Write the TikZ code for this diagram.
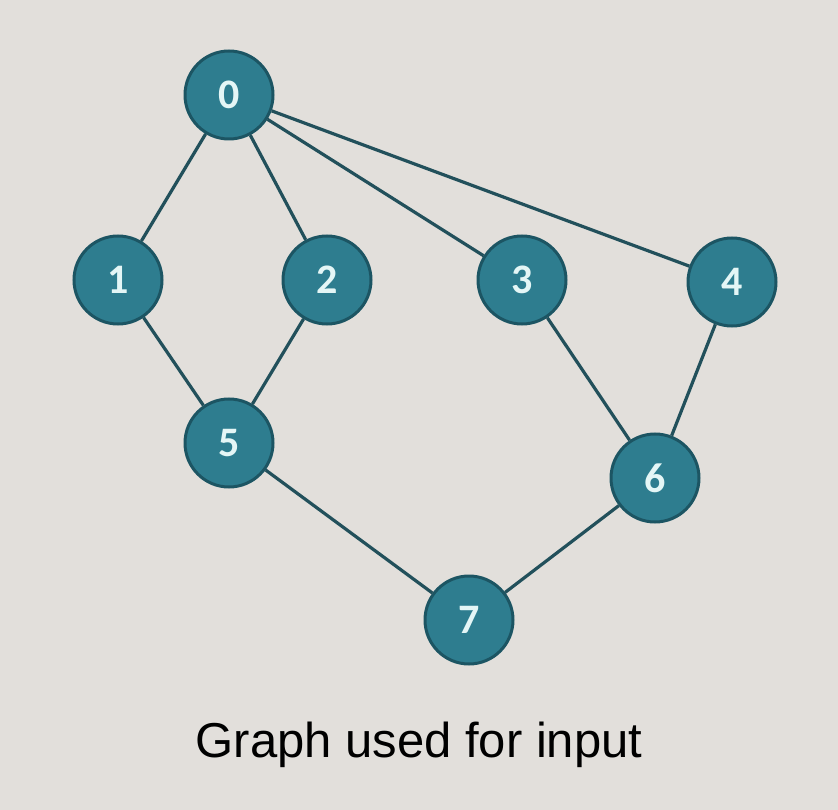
\documentclass[tikz,border=0pt]{standalone}
\usepackage{fontspec}
\setmainfont{Liberation Sans}
\newfontfamily\nodefont{Carlito}
\definecolor{bgc}{HTML}{E2DFDB}
\definecolor{nfill}{HTML}{2E7D8F}
\definecolor{ndraw}{HTML}{1C5563}
\definecolor{ntext}{HTML}{E4F6F6}
\definecolor{ecol}{HTML}{22505B}
\tikzset{
  vert/.style={circle, fill=nfill, draw=ndraw, line width=3pt, minimum size=88pt, inner sep=0pt,
    text=ntext, font=\nodefont\bfseries\fontsize{42}{46}\selectfont},
  edge/.style={draw=ecol, line width=3.2pt}
}
\begin{document}
\begin{tikzpicture}[x=1pt,y=-1pt]
\fill[bgc] (0,0) rectangle (838,810);
\useasboundingbox (0,0) rectangle (838,810);
\node[vert] (n0) at (229,95) {0};
\node[vert] (n1) at (118,280) {1};
\node[vert] (n2) at (327,280) {2};
\node[vert] (n3) at (522,280) {3};
\node[vert] (n4) at (732,282) {4};
\node[vert] (n5) at (229,443) {5};
\node[vert] (n6) at (655,478) {6};
\node[vert] (n7) at (469,620) {7};
\draw[edge] (n0) -- (n1);
\draw[edge] (n0) -- (n2);
\draw[edge] (n0) -- (n3);
\draw[edge] (n0) -- (n4);
\draw[edge] (n1) -- (n5);
\draw[edge] (n2) -- (n5);
\draw[edge] (n3) -- (n6);
\draw[edge] (n4) -- (n6);
\draw[edge] (n5) -- (n7);
\draw[edge] (n6) -- (n7);
\node[font=\fontsize{49}{56}\selectfont, text=black] (cap) at (419,745) {Graph used for input};
\end{tikzpicture}
\end{document}
